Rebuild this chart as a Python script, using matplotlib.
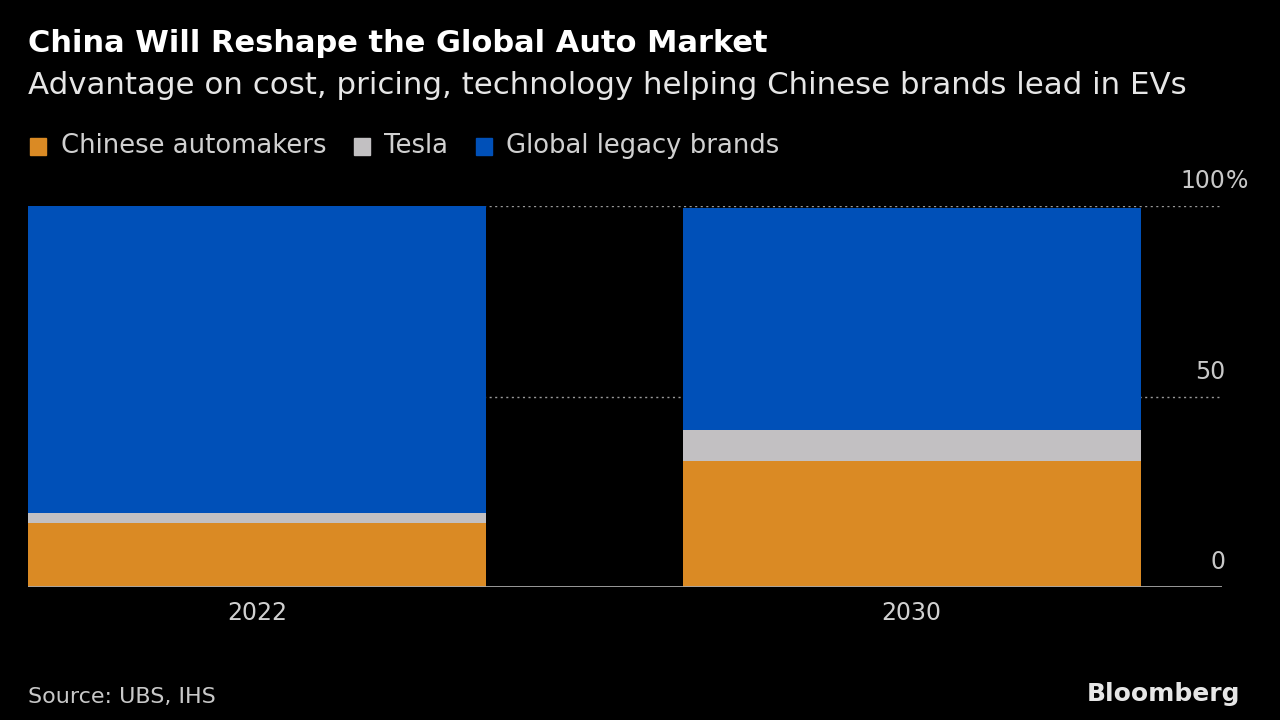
import matplotlib
matplotlib.use("Agg")
import matplotlib.pyplot as plt

years = ["2022", "2030"]
chinese = [16.9, 33.2]
tesla = [2.5, 8.1]
legacy = [80.6, 58.2]
series_names = ["Chinese automakers", "Tesla", "Global legacy brands"]
colors = ["#DA8A24", "#C2C0C2", "#0050B8"]
yticks = [0, 50, 100]
ytick_labels = ["0", "50", "100%"]

plt.rcParams["font.family"] = ["DejaVu Sans"]

fig = plt.figure(figsize=(12.8, 7.2), dpi=100, facecolor="black")
ax = fig.add_axes([28 / 1280, 1 - 587 / 720, (1222 - 28) / 1280, (587 - 206) / 720])
ax.set_facecolor("black")

x = [0, 1]
width = 0.70
bottom = [0, 0]
for vals, c in zip([chinese, tesla, legacy], colors):
    ax.bar(x, vals, width, bottom=bottom, color=c, zorder=2)
    bottom = [b + v for b, v in zip(bottom, vals)]

ax.set_xlim(-0.35, 1.474)
ax.set_ylim(0, 100)

# dotted gridlines
for v in yticks[1:]:
    ax.axhline(v, color="#9a9a9a", lw=1, ls=(0, (1.5, 2.5)), zorder=1)
ax.axhline(0, color="#a8a8a8", lw=2, zorder=3)

for s in ax.spines.values():
    s.set_visible(False)
ax.set_yticks([])
ax.set_xticks(x)
ax.set_xticklabels(years)
ax.tick_params(axis="x", length=0, pad=10, labelsize=17, labelcolor="#d0d0d0")

# right-side labels above gridlines
tr = ax.get_yaxis_transform()
for v, lab in zip(yticks, ytick_labels):
    if lab.endswith("%"):
        ax.text(1.003, v + 3.3, lab[:-1], transform=tr,
                ha="right", va="bottom", fontsize=17, color="#c8c8c8")
        ax.text(1.003, v + 3.3, "%", transform=tr,
                ha="left", va="bottom", fontsize=17, color="#c8c8c8")
    else:
        ax.text(1.003, v + 3.3, lab, transform=tr,
                ha="right", va="bottom", fontsize=17, color="#c8c8c8")

fig.text(28 / 1280, 1 - 44 / 720, "China Will Reshape the Global Auto Market",
         fontsize=22, fontweight="bold", color="white", va="center")
fig.text(28 / 1280, 1 - 86 / 720,
         "Advantage on cost, pricing, technology helping Chinese brands lead in EVs",
         fontsize=22.2, color="#e6e6e6", va="center")

# legend
lx = 30
for name, c in zip(series_names, colors):
    fig.patches.append(plt.Rectangle((lx / 1280, 1 - 155 / 720), 16 / 1280, 17 / 720,
                                     transform=fig.transFigure, color=c))
    t = fig.text((lx + 31) / 1280, 1 - 146 / 720, name, fontsize=18.6,
                 color="#d0d0d0", va="center")
    fig.canvas.draw()
    bb = t.get_window_extent()
    lx = bb.x1 + 27

fig.text(28 / 1280, 1 - 697 / 720, "Source: UBS, IHS", fontsize=16,
         color="#c8c8c8", va="center")
fig.text(1240 / 1280, 1 - 694 / 720, "Bloomberg", fontsize=18, fontweight="bold",
         color="#e6e6e6", va="center", ha="right")

fig.savefig("out.png", dpi=100, facecolor="black")
